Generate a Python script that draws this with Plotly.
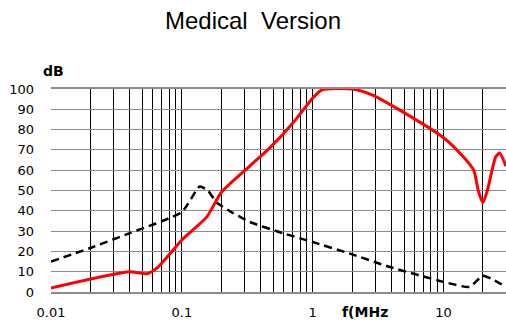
import numpy as np
import plotly.graph_objects as go

# red solid curve (medical version attenuation)
red_f = [0.01, 0.04, 0.054, 0.065, 0.1, 0.155, 0.2, 0.33, 0.47, 0.70, 1.0, 1.17, 2.0, 2.87, 4.6, 10, 14.2, 17, 18.4, 20, 21.6, 25, 26.8, 30]
red_db = [2, 10, 9, 12, 25.6, 37, 49, 62, 71, 83, 95.5, 99.5, 100, 97, 89.7, 76, 66.5, 60, 50, 44, 50, 66.5, 68.5, 62]

# black dashed curve
blk_f = [0.01, 0.02, 0.04, 0.1, 0.137, 0.158, 0.185, 0.245, 0.33, 0.59, 1.0, 1.9, 3.9, 10, 15.8, 20, 30]
blk_db = [15, 21.7, 29, 39.4, 52, 50, 44, 39, 34.5, 29, 24.6, 19, 12.3, 5, 2.5, 8, 2.5]

# log axis ticks: every 1..9 multiple, labels on decades only
xtick_mult = [m for e in range(-2, 2) for m in range(1, 10) if m * 10.0 ** e <= 30]
xtick_vals = [m * 10.0 ** e for e in range(-2, 2) for m in range(1, 10) if m * 10.0 ** e <= 30]
xtick_text = [("%g" % v) if m == 1 else "" for v, m in zip(xtick_vals, xtick_mult)]
ytick_vals = list(range(0, 101, 10))

fig = go.Figure()
fig.add_trace(go.Scatter(x=blk_f, y=blk_db, mode="lines",
                         line=dict(color="black", width=2.5, dash="8px,5px", shape="spline", smoothing=0.5)))
fig.add_trace(go.Scatter(x=red_f, y=red_db, mode="lines",
                         line=dict(color="#ff0000", width=3, shape="spline", smoothing=0.6)))

fig.update_layout(
    width=506, height=322,
    margin=dict(l=51, r=0, t=89, b=30),
    plot_bgcolor="white", paper_bgcolor="white",
    showlegend=False,
    title=dict(text="Medical\u00a0 Version", x=0.5, xref="container", xanchor="center",
               y=0.935, yanchor="middle",
               font=dict(family="Liberation Sans, Arial", size=24, color="black")),
    font=dict(family="DejaVu Sans, Verdana", size=13, color="black"),
    annotations=[
        dict(text="<b>dB</b>", x=0.005, y=1.09, xref="paper", yref="paper", showarrow=False,
             xanchor="center", yanchor="middle", font=dict(size=14)),
        dict(text="<b>f(MHz</b>", x=0.69, y=-0.1, xref="paper", yref="paper", showarrow=False,
             xanchor="center", yanchor="middle", font=dict(size=14)),
    ],
)
fig.update_xaxes(type="log", range=[-2, np.log10(30)], tickvals=xtick_vals, ticktext=xtick_text,
                 showgrid=True, gridcolor="black", gridwidth=1, ticks="", ticklabelstandoff=8,
                 showline=True, linecolor="#8c8c8c", linewidth=1.5, mirror=True, zeroline=False,
                 tickfont=dict(size=13))
fig.update_yaxes(range=[0, 100], tickvals=ytick_vals, showgrid=True, gridcolor="#8c8c8c", gridwidth=1,
                 ticks="", ticklabelstandoff=16, showline=False, zeroline=False, tickfont=dict(size=13))

fig.write_html("out.html", config={"displayModeBar": False},
               post_script="document.body.style.margin='0';")
